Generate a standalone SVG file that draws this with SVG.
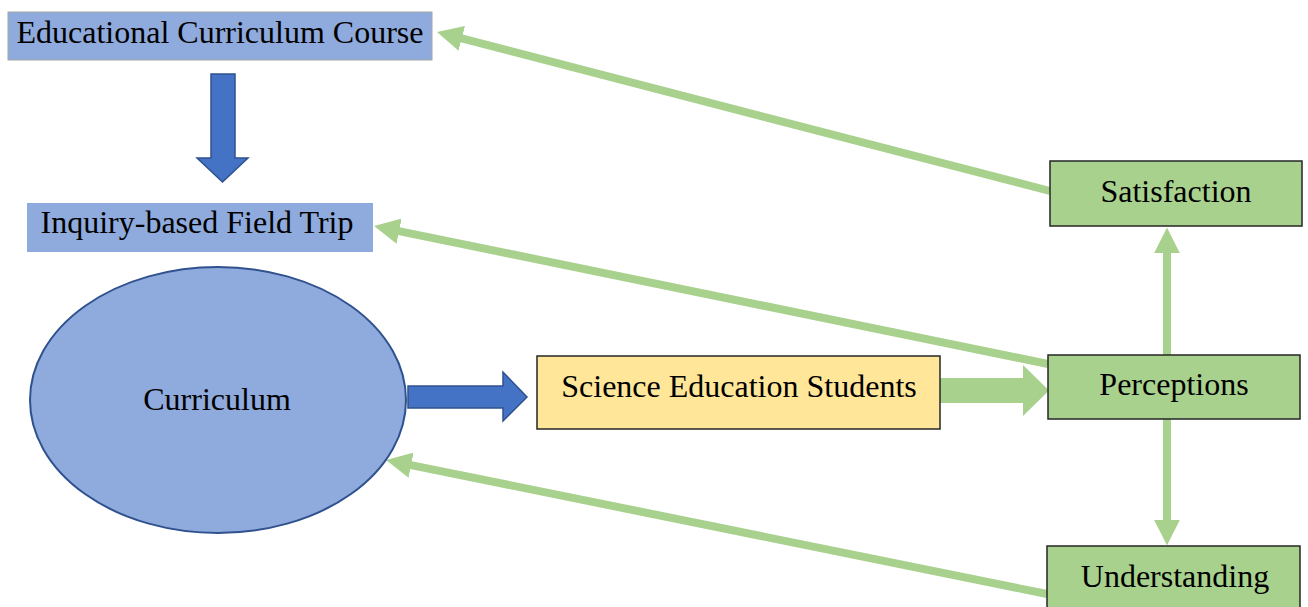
<svg xmlns="http://www.w3.org/2000/svg" width="1308" height="607" viewBox="0 0 1308 607">
  <style>
    .lbl { font-family: "Liberation Serif", "Times New Roman", serif; font-size: 32px; fill: #000; text-anchor: middle; }
    .blue { fill: #8FAADC; }
    .green { fill: #A9D18E; stroke: #262626; stroke-width: 1.5; }
    .link { stroke: #A9D18E; stroke-width: 8; fill: none; }
    .head { fill: #A9D18E; }
    .block { fill: #4472C4; stroke: #2F528F; stroke-width: 1.5; }
  </style>
  <defs>
    <marker id="tip" markerUnits="strokeWidth" viewBox="0 0 3.2 3.2" refX="0.5" refY="1.6" markerWidth="3.2" markerHeight="3.2" orient="auto">
      <path d="M0,0 L3.2,1.6 L0,3.2 z" class="head"/>
    </marker>
  </defs>

  <!-- connectors -->
  <g id="connectors">
    <line class="link" x1="1050" y1="191" x2="457.9" y2="37.4" marker-end="url(#tip)"/>
    <line class="link" x1="1048" y1="364" x2="395.2" y2="230.3" marker-end="url(#tip)"/>
    <line class="link" x1="1047" y1="594" x2="407.2" y2="464.3" marker-end="url(#tip)"/>
    <line class="link" x1="1167" y1="356" x2="1167" y2="249" marker-end="url(#tip)"/>
    <line class="link" x1="1167" y1="418" x2="1167" y2="524" marker-end="url(#tip)"/>
    <!-- wide green block arrow: students to perceptions -->
    <polygon class="head" points="940,378 1023,378 1023,365 1049,390.5 1023,416 1023,403 940,403"/>
    <!-- blue block arrows -->
    <polygon class="block" points="211,74 235,74 235,158 248,158 222.5,182 197,158 211,158"/>
    <polygon class="block" points="408,386 503,386 503,372 527,397 503,421 503,408 408,408"/>
  </g>

  <g id="course">
    <rect class="blue" x="8" y="12" width="424" height="48" stroke="#A6A6A6" stroke-width="1"/>
    <text class="lbl" x="220" y="43">Educational Curriculum Course</text>
  </g>

  <g id="fieldtrip">
    <rect class="blue" x="27" y="203" width="346" height="49"/>
    <text class="lbl" x="197" y="233">Inquiry-based Field Trip</text>
  </g>

  <g id="curriculum">
    <ellipse cx="218" cy="400" rx="188" ry="133" fill="#8FAADC" stroke="#2F528F" stroke-width="2"/>
    <text class="lbl" x="217" y="410">Curriculum</text>
  </g>

  <g id="students">
    <rect x="537" y="356" width="403" height="73" fill="#FFE699" stroke="#262626" stroke-width="1.5"/>
    <text class="lbl" x="739" y="397">Science Education Students</text>
  </g>

  <g id="perceptions">
    <rect class="green" x="1048" y="355" width="252" height="64"/>
    <text class="lbl" x="1174" y="395">Perceptions</text>
  </g>

  <g id="satisfaction">
    <rect class="green" x="1050" y="161" width="252" height="65"/>
    <text class="lbl" x="1176" y="202">Satisfaction</text>
  </g>

  <g id="understanding">
    <rect class="green" x="1047" y="546" width="253" height="70"/>
    <text class="lbl" x="1175" y="587">Understanding</text>
  </g>
</svg>
